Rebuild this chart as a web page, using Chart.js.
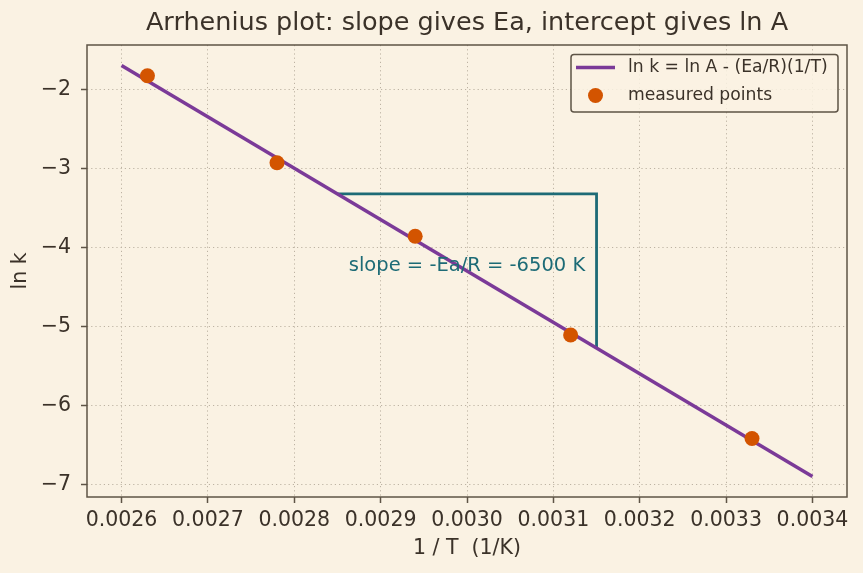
<!DOCTYPE html>
<html>
<head>
<meta charset="utf-8">
<script src="https://cdn.jsdelivr.net/npm/chart.js@4/dist/chart.umd.min.js"></script>
<style>
html,body{margin:0;padding:0;background:#FAF2E3;}
#wrap{width:863px;height:573px;}
</style>
</head>
<body>
<div id="wrap"><canvas id="c" width="863" height="573"></canvas></div>
<script>
// Data
const fitX = [0.0026, 0.0034];
const fitY = [-1.7, -6.9];
const measX = [0.00263, 0.00278, 0.00294, 0.00312, 0.00333];
const measY = [-1.83, -2.93, -3.86, -5.11, -6.42];
const triX = [0.00285, 0.00315, 0.00315];
const triY = [-3.325, -3.325, -5.275];
const xTicks = [0.0026, 0.0027, 0.0028, 0.0029, 0.0030, 0.0031, 0.0032, 0.0033, 0.0034];
const yTicks = [-2, -3, -4, -5, -6, -7];
const annText = "slope = -Ea/R = -6500 K";
const annX = 0.0030, annY = -4.23;
const titleText = "Arrhenius plot: slope gives Ea, intercept gives ln A";
const xTitle = "1 / T  (1/K)";
const yTitle = "ln k";
const legendLabels = ["ln k = ln A - (Ea/R)(1/T)", "measured points"];

const BG = '#FAF2E3', INK = '#3B3229', FRAME = '#5E5446', GRID = '#BDB3A3';
const PURPLE = '#7B3A98', ORANGE = '#D35400', TEAL = '#1D6B76';
const FONT = "'DejaVu Sans', sans-serif";

const zip = (xs, ys) => xs.map((x, i) => ({x, y: ys[i]}));

const bgPlugin = {
  id: 'bg',
  beforeDraw(chart) {
    const ctx = chart.ctx;
    ctx.save(); ctx.fillStyle = BG; ctx.fillRect(0, 0, chart.width, chart.height); ctx.restore();
  }
};
const framePlugin = {
  id: 'frame',
  afterDraw(chart) {
    const {ctx, chartArea: a, scales} = chart;
    ctx.save();
    ctx.strokeStyle = FRAME; ctx.lineWidth = 1.5;
    ctx.strokeRect(a.left, a.top, a.right - a.left, a.bottom - a.top);
    // annotation text
    ctx.fillStyle = TEAL;
    ctx.font = "19.5px " + FONT;
    ctx.textAlign = 'center'; ctx.textBaseline = 'middle';
    ctx.fillText(annText, scales.x.getPixelForValue(annX), scales.y.getPixelForValue(annY));
    // legend
    const lx = 571, ly = 54.5, lw = 267, lh = 57.5;
    ctx.fillStyle = 'rgba(250,242,227,0.85)';
    ctx.strokeStyle = FRAME; ctx.lineWidth = 1.5;
    ctx.beginPath();
    if (ctx.roundRect) ctx.roundRect(lx, ly, lw, lh, 3); else ctx.rect(lx, ly, lw, lh);
    ctx.fill(); ctx.stroke();
    ctx.strokeStyle = PURPLE; ctx.lineWidth = 3.5;
    ctx.beginPath(); ctx.moveTo(576, 67.5); ctx.lineTo(615, 67.5); ctx.stroke();
    ctx.fillStyle = ORANGE;
    ctx.beginPath(); ctx.arc(595.5, 95.5, 7.5, 0, Math.PI * 2); ctx.fill();
    ctx.fillStyle = INK; ctx.font = "17.2px " + FONT;
    ctx.textAlign = 'left'; ctx.textBaseline = 'middle';
    ctx.fillText(legendLabels[0], 628, 68);
    ctx.fillText(legendLabels[1], 628, 96);
    ctx.restore();
  }
};

new Chart(document.getElementById('c'), {
  type: 'scatter',
  data: {
    datasets: [
      {label: legendLabels[0], type: 'line', data: zip(fitX, fitY), borderColor: PURPLE, borderWidth: 3.5,
       pointRadius: 0, fill: false, order: 2},
      {label: 'triangle', type: 'line', data: zip(triX, triY), borderColor: TEAL, borderWidth: 2.8,
       pointRadius: 0, fill: false, order: 3, borderJoinStyle: 'miter'},
      {label: legendLabels[1], data: zip(measX, measY), backgroundColor: ORANGE, borderColor: ORANGE,
       pointRadius: 7.5, pointHoverRadius: 7.5, borderWidth: 0, order: 1}
    ]
  },
  options: {
    responsive: false,
    animation: false,
    devicePixelRatio: 1,
    layout: {padding: {left: 0, right: 16, top: 0, bottom: 0}},
    plugins: {
      legend: {display: false},
      tooltip: {enabled: false},
      title: {display: true, text: titleText, color: INK, fullSize: false,
        font: {family: FONT, size: 25.5, weight: 'normal', lineHeight: 1.2}, padding: {top: 8.5, bottom: 5.9}}
    },
    scales: {
      x: {
        type: 'linear', min: 0.00256, max: 0.00344,
        afterBuildTicks(s) { s.ticks = xTicks.map(v => ({value: v})); },
        afterFit(s) { s.height = 76; },
        ticks: {color: INK, font: {family: FONT, size: 20.5}, padding: 5,
          callback: v => v.toFixed(4), maxRotation: 0, autoSkip: false},
        grid: {color: GRID, lineWidth: 1, drawTicks: true, tickLength: 6,
          tickColor: FRAME, tickWidth: 1.5, tickBorderDash: []},
        border: {display: false, dash: [1.2, 3]},
        title: {display: true, text: xTitle, color: INK, font: {family: FONT, size: 20.5}, padding: {top: 0, bottom: 12}}
      },
      y: {
        type: 'linear', min: -7.16, max: -1.44,
        afterBuildTicks(s) { s.ticks = yTicks.map(v => ({value: v})); },
        afterFit(s) { s.width = 87; },
        ticks: {color: INK, font: {family: FONT, size: 20.5}, padding: 10,
          callback: v => String(v).replace('-', '\u2212'), autoSkip: false},
        grid: {color: GRID, lineWidth: 1, drawTicks: true, tickLength: 6,
          tickColor: FRAME, tickWidth: 1.5, tickBorderDash: []},
        border: {display: false, dash: [1.2, 3]},
        title: {display: true, text: yTitle, color: INK, font: {family: FONT, size: 20.5}, padding: {top: 8, bottom: 8}}
      }
    }
  },
  plugins: [bgPlugin, framePlugin]
});
</script>
</body>
</html>
